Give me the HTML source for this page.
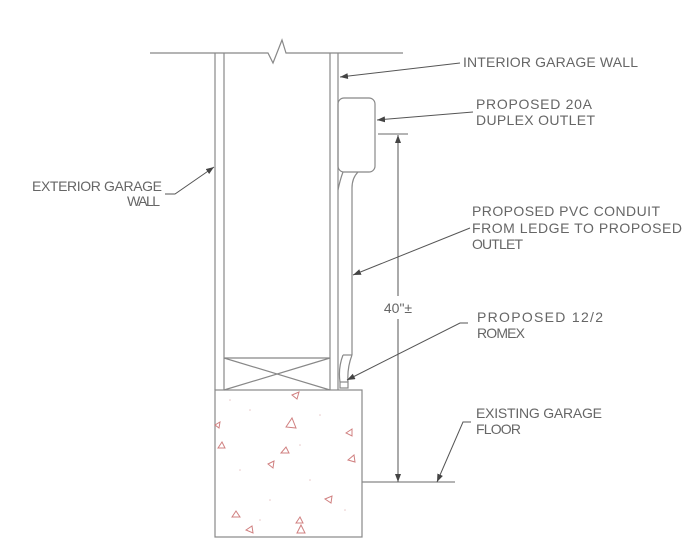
<!DOCTYPE html>
<html><head><meta charset="utf-8"><style>
html,body{margin:0;padding:0;background:#fff;}
svg{display:block;}
text{font-family:"Liberation Sans",sans-serif;font-size:14px;fill:#666;}
</style></head><body>
<svg width="700" height="560" viewBox="0 0 700 560" xmlns="http://www.w3.org/2000/svg">
<defs>
<marker id="ar" markerWidth="8" markerHeight="6" refX="8" refY="3" orient="auto" markerUnits="userSpaceOnUse">
<path d="M0,0 L8,3 L0,6 z" fill="#444"/></marker>
</defs>
<g stroke="#888" stroke-width="1.2" fill="none">
<polyline points="150,53 268,53 273,63 282,40 286,53 403,53"/>
<line x1="215" y1="53" x2="215" y2="390"/>
<line x1="224" y1="53" x2="224" y2="390"/>
<line x1="330" y1="53" x2="330" y2="390"/>
<line x1="338" y1="53" x2="338" y2="390"/>
<line x1="224" y1="358" x2="330" y2="358"/>
<line x1="224" y1="358" x2="330" y2="390"/>
<line x1="330" y1="358" x2="224" y2="390"/>
<rect x="215" y="390" width="147" height="147"/>
<line x1="362" y1="482" x2="455" y2="482"/>
<rect x="338" y="98" width="37" height="74" rx="6"/>
<path d="M343,172 Q340,180 338,190"/>
<path d="M358,172 Q352,178 352,188 L352,355"/>
<path d="M343,355 L352,355"/>
<path d="M343,355 Q338,368 340,382"/>
<path d="M352,355 Q347,368 348,382"/>
<rect x="340" y="382" width="8" height="6"/>
<line x1="378" y1="134" x2="408" y2="134"/>
</g>
<g stroke="#555" stroke-width="1" fill="none">
<line x1="398" y1="296" x2="398" y2="135" marker-end="url(#ar)"/>
<line x1="398" y1="319" x2="398" y2="482" marker-end="url(#ar)"/>
<line x1="460" y1="63" x2="340" y2="77" marker-end="url(#ar)"/>
<line x1="473" y1="112" x2="377" y2="120" marker-end="url(#ar)"/>
<line x1="470" y1="228" x2="353" y2="275" marker-end="url(#ar)"/>
<polyline points="468,323 460,323 347,380" marker-end="url(#ar)"/>
<polyline points="471,422 463,422 437,482" marker-end="url(#ar)"/>
<polyline points="165,194 175,194 214,167" marker-end="url(#ar)"/>
</g>
<g stroke="#d08080" stroke-width="1" fill="none">
<path d="M292,395 l7,-3 l-2,7 z"/>
<path d="M286,427 l6,-9 l4,10 z"/>
<path d="M346,433 l6,-4 l0,7 z"/>
<path d="M218,448 l4,-6 l3,6 z"/>
<path d="M281,453 l5,-6 l3,6 z"/>
<path d="M348,460 l6,-5 l1,7 z"/>
<path d="M268,464 l6,-3 l-1,7 z"/>
<path d="M325,499 l7,-3 l-1,7 z"/>
<path d="M232,517 l4,-6 l4,6 z"/>
<path d="M246,530 l6,-4 l1,7 z"/>
<path d="M296,523 l4,-6 l3,6 z"/>
<path d="M297,533 l4,-8 l4,8 z"/>
<path d="M215,425 l5,-3 l-1,6 z"/>
</g>
<g fill="#e8c8c8">
<circle cx="250" cy="410" r="0.8"/><circle cx="320" cy="415" r="0.8"/><circle cx="240" cy="470" r="0.8"/>
<circle cx="310" cy="480" r="0.8"/><circle cx="270" cy="500" r="0.8"/><circle cx="345" cy="510" r="0.8"/>
<circle cx="230" cy="400" r="0.8"/><circle cx="300" cy="445" r="0.8"/><circle cx="260" cy="520" r="0.8"/>
</g>
<text x="463" y="67" textLength="175" lengthAdjust="spacing">INTERIOR GARAGE WALL</text>
<text x="476" y="109" textLength="116" lengthAdjust="spacing">PROPOSED 20A</text>
<text x="476" y="125" textLength="119" lengthAdjust="spacing">DUPLEX OUTLET</text>
<text x="32" y="191" textLength="130" lengthAdjust="spacing">EXTERIOR GARAGE</text>
<text x="127" y="206" textLength="33" lengthAdjust="spacing">WALL</text>
<text x="472" y="216" textLength="188" lengthAdjust="spacing">PROPOSED PVC CONDUIT</text>
<text x="472" y="233" textLength="210" lengthAdjust="spacing">FROM LEDGE TO PROPOSED</text>
<text x="472" y="249" textLength="51" lengthAdjust="spacing">OUTLET</text>
<text x="398" y="313" text-anchor="middle">40"±</text>
<text x="477" y="322" textLength="126" lengthAdjust="spacing">PROPOSED 12/2</text>
<text x="477" y="338" textLength="48" lengthAdjust="spacing">ROMEX</text>
<text x="476" y="418" textLength="126" lengthAdjust="spacing">EXISTING GARAGE</text>
<text x="476" y="434" textLength="45" lengthAdjust="spacing">FLOOR</text>
</svg>
</body></html>
